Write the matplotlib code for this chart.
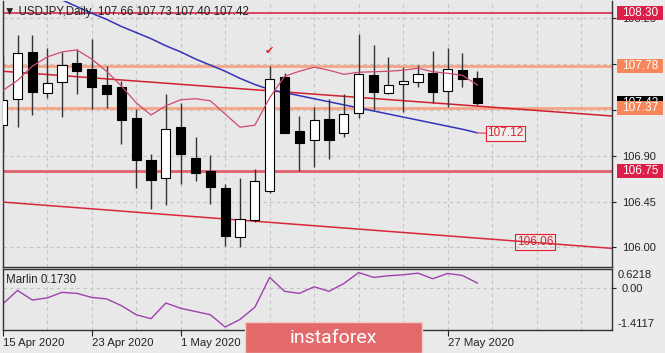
import matplotlib
matplotlib.use('Agg')
import matplotlib.pyplot as plt
from matplotlib.patches import Rectangle
from matplotlib.transforms import blended_transform_factory

plt.rcParams['font.family'] = ['Liberation Sans', 'DejaVu Sans']

# daily candles, 15 Apr 2020 .. 29 May 2020
opens = [107.20, 107.46, 107.92, 107.52, 107.62, 107.81, 107.75, 107.59, 107.58, 107.27,
         106.86, 106.68, 107.18, 106.88, 106.75, 106.58, 106.10, 106.27, 106.55, 107.67,
         107.14, 107.05, 107.26, 107.12, 107.32, 107.69, 107.52, 107.60, 107.62, 107.71,
         107.54, 107.74, 107.66]
highs = [107.89, 108.09, 108.09, 107.96, 107.92, 107.95, 108.05, 107.78, 107.63, 107.36,
         106.92, 107.51, 107.42, 107.08, 106.91, 106.62, 106.68, 106.77, 107.78, 107.71,
         107.29, 107.38, 107.46, 107.51, 108.10, 107.99, 107.87, 107.77, 107.79, 107.93,
         107.96, 107.91, 107.73]
lows = [106.94, 107.18, 107.30, 107.47, 107.28, 107.51, 107.36, 107.37, 107.02, 106.58,
        106.38, 106.42, 106.62, 106.65, 106.43, 106.01, 106.00, 106.25, 106.53, 107.12,
        106.75, 106.79, 106.87, 107.08, 107.27, 107.35, 107.51, 107.33, 107.58, 107.42,
        107.38, 107.58, 107.40]
closes = [107.45, 107.91, 107.53, 107.61, 107.79, 107.73, 107.58, 107.51, 107.25, 106.86,
          106.66, 107.16, 106.92, 106.73, 106.59, 106.11, 106.28, 106.65, 107.65, 107.12,
          107.03, 107.25, 107.05, 107.31, 107.70, 107.53, 107.59, 107.63, 107.70, 107.53,
          107.75, 107.65, 107.42]

# thin moving average through the candles
ma_fast = [107.54, 107.64, 107.78, 107.87, 107.92, 107.94, 107.85, 107.73, 107.585, 107.42,
           107.30, 107.39, 107.45, 107.46, 107.44, 107.31, 107.18, 107.20, 107.47, 107.68,
           107.73, 107.77, 107.74, 107.70, 107.72, 107.725, 107.73, 107.74, 107.76, 107.725,
           107.71, 107.69, 107.595]
# blue moving average (starts above the chart top)
ma_slow = [108.62, 108.56, 108.50, 108.49, 108.43, 108.365, 108.30, 108.24, 108.17, 108.11,
           108.05, 107.98, 107.92, 107.85, 107.79, 107.73, 107.66, 107.60, 107.55, 107.52,
           107.49, 107.46, 107.43, 107.40, 107.37, 107.34, 107.31, 107.28, 107.25, 107.22,
           107.19, 107.16, 107.125]

marlin = [-0.545, -0.078, -0.41, -0.335, -0.145, -0.18, -0.32, -0.368, -0.60, -0.91,
          -1.045, -0.51, -0.69, -0.80, -0.91, -1.33, -1.07, -0.655, 0.365, -0.11,
          -0.18, 0.045, -0.11, 0.155, 0.53, 0.365, 0.42, 0.455, 0.51, 0.32,
          0.50, 0.43, 0.173]

# dates under the watermark are not visible in the picture
date_idx = [0, 6, 12, 18, 24, 30]
date_labels = ['15 Apr 2020', '23 Apr 2020', '1 May 2020', '', '', '27 May 2020']

# 107.35 and 107.80 sit under the price tags
price_ticks = [106.00, 106.45, 106.90, 107.35, 107.80, 108.25]
price_tick_labels = ['106.00', '106.45', '106.90', '', '', '108.25']
trend_hi = ([0, 41.1], [107.73, 107.29])
trend_lo = ([0, 41.1], [106.445, 105.99])

W, H = 665, 353
fig = plt.figure(figsize=(W / 100, H / 100), dpi=100)
fig.patch.set_facecolor('#ebebeb')

ax = fig.add_axes([2.7 / W, 1 - 266.7 / H, (612.3 - 2.7) / W, (266.7 - 1) / H])
ax2 = fig.add_axes([2.7 / W, 1 - 330 / H, (612.3 - 2.7) / W, (330 - 269.3) / H])

ymin, ymax = 105.81, 108.42
px_per_unit = (266.7 - 1) / (ymax - ymin)
x = list(range(len(opens)))

for a in (ax, ax2):
    a.set_facecolor('#e8e8e8')
    a.set_xlim(0, 41.1)
    for s in a.spines.values():
        s.set_color('#333333')
        s.set_linewidth(1)
    a.set_xticks(range(0, 42, 3), minor=True)
    a.grid(which='minor', axis='x', linestyle=(0, (3, 3)), color='#c4c4c4', lw=0.8)
    a.set_axisbelow(True)
ax.spines['top'].set_visible(False)

# ---- main price panel
ax.set_ylim(ymin, ymax)
ax.yaxis.tick_right()
ax.set_yticks(price_ticks)
ax.set_yticklabels(price_tick_labels)
ax.tick_params(axis='y', direction='out', length=3, pad=4, labelsize=8, colors='#222222')
ax.set_xticks([])
ax.tick_params(axis='x', which='minor', length=0)
ax.grid(which='major', axis='y', linestyle=(0, (3, 3)), color='#c4c4c4', lw=0.8)

ax.axhline(108.30, color='#d8284a', lw=1.2, zorder=2)
ax.axhline(107.78, color='#f5a585', lw=2, zorder=2)
ax.axhline(107.37, color='#f5a585', lw=2, zorder=2)
ax.axhline(106.75, color='#e0606e', lw=2, zorder=2)

ax.plot(trend_hi[0], trend_hi[1], color='#d02030', lw=1.1, zorder=3)
ax.plot(trend_lo[0], trend_lo[1], color='#d8283a', lw=1.1, zorder=3)
ax.plot(x, ma_slow, color='#3333bb', lw=1.1, zorder=3)

# candles
for i in x:
    o, h, l, c = opens[i], highs[i], lows[i], closes[i]
    ax.vlines(i, l, h, color='#333333', lw=1, zorder=4)
    bottom = min(o, c)
    height = max(abs(c - o), 0.02)
    ax.bar(i, height, bottom=bottom, width=0.62, color='white' if c >= o else 'black',
           edgecolor='black', lw=0.8, zorder=5)

ax.plot(x, ma_fast, color='#d04a6a', lw=0.9, zorder=6)

ax.text(18, 107.93, '\u2714', color='#e02020', fontsize=8, ha='center', va='center', zorder=7)

# object labels on chart
ax.plot([32, 32.6], [ma_slow[-1], 107.12], color='#e06070', lw=1, zorder=6)
ax.text(33.9, 107.12, '107.12', color='#e02030', fontsize=8.5, ha='center', va='center', zorder=7,
        bbox=dict(boxstyle='square,pad=0.15', fc='#efefef', ec='#e02030', lw=0.8))
ax.text(35.9, 106.05, '106.06', color='#e02030', fontsize=8.5, ha='center', va='center', zorder=7,
        bbox=dict(boxstyle='square,pad=0.15', fc='none', ec='#e02030', lw=0.8))

# price tags on the right scale
tr = blended_transform_factory(fig.transFigure, ax.transData)


def tag(price, text, fc, tc, z):
    h = 14 / px_per_unit
    ax.add_patch(Rectangle((617 / W, price - h / 2), 46 / W, h, transform=tr, facecolor=fc,
                           edgecolor='none', clip_on=False, zorder=z))
    ax.text(640 / W, price, text, transform=tr, color=tc, ha='center', va='center',
            fontsize=8.5, clip_on=False, zorder=z + 0.1)


tag(108.30, '108.30', '#dc1f48', 'white', 10)
tag(107.78, '107.78', '#f7875a', 'white', 10)
tag(107.42, '107.42', '#000000', 'white', 9)
tag(107.37, '107.37', '#f7875a', 'white', 10)
tag(106.75, '106.75', '#dc1f48', 'white', 10)

fig.text(4 / W, 1 - 12 / H, '\u25bc USDJPY,Daily  107.66 107.73 107.40 107.42', fontsize=8.3,
         color='#222222', va='center', ha='left')

# ---- Marlin panel
mlo, mhi = -1.4117, 0.6218
ax2.set_ylim(mlo - 0.02, mhi + 0.02)
ax2.plot(x, marlin, color='#a040b0', lw=1)
ax2.yaxis.tick_right()
ax2.set_yticks([0.0])
ax2.set_yticklabels(['0.00'])
ax2.tick_params(axis='y', direction='out', length=3, pad=4, labelsize=8, colors='#222222')
ax2.grid(which='major', axis='y', linestyle=(0, (3, 3)), color='#c4c4c4', lw=0.8)
ax2.text(1.008, 0.99, '%.4f' % mhi, transform=ax2.transAxes, fontsize=8, color='#222222',
         va='top', ha='left', clip_on=False)
ax2.text(1.008, 0.01, '%.4f' % mlo, transform=ax2.transAxes, fontsize=8, color='#222222',
         va='bottom', ha='left', clip_on=False)
ax2.text(0.005, 0.83, 'Marlin %.4f' % marlin[-1], transform=ax2.transAxes, fontsize=8.3,
         color='#222222', va='center', ha='left')

ax2.set_xticks(date_idx)
ax2.set_xticklabels(date_labels, ha='left')
ax2.tick_params(axis='x', which='major', direction='out', length=4, pad=2, labelsize=8.2,
                colors='#222222')
ax2.tick_params(axis='x', which='minor', length=0)
ax2.grid(which='major', axis='x', linestyle=(0, (3, 3)), color='#c4c4c4', lw=0.8)

# instaforex watermark
fig.add_artist(Rectangle((245 / W, 0), 176.6 / W, 31.5 / H, transform=fig.transFigure,
                         facecolor='#e26a6a', edgecolor='#f3cccc', lw=1, zorder=20))
fig.text(333 / W, 1 - 338 / H, 'instaforex', color='white', fontsize=14, family='Roboto',
         ha='center', va='center', zorder=21)

fig.savefig('out.png', dpi=100, facecolor=fig.get_facecolor())
